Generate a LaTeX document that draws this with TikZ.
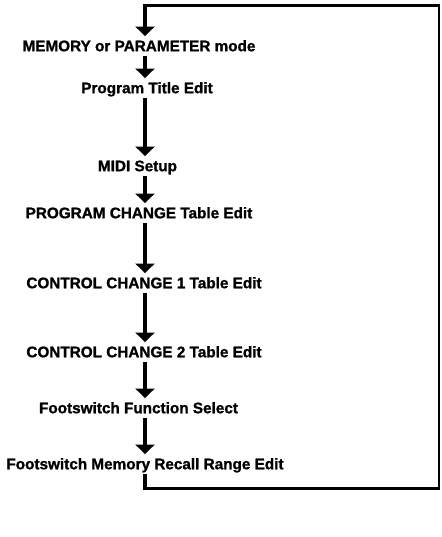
\documentclass[tikz,border=0pt]{standalone}
\usepackage{fontspec}
\setmainfont{Liberation Sans}[BoldFeatures={FakeBold=1.2}]
\usetikzlibrary{arrows.meta}
\begin{document}
\begin{tikzpicture}[x=1pt,y=-1pt,
  label/.style={inner xsep=0pt,inner ysep=4.5pt,text height=10.5pt,text depth=0pt,
    font=\fontsize{15.3}{18}\selectfont\bfseries},
  arr/.style={line width=3.8pt,-{Triangle[width=19pt,length=9.5pt]}},
  loopline/.style={line width=3pt,line join=miter}]
\useasboundingbox (0,0) rectangle (441,537);
\coordinate (col) at (145,0);
\node[label] (mem)  at (139,46)  {MEMORY or PARAMETER mode};
\node[label] (pte)  at (147,88)  {Program Title Edit};
\node[label] (midi) at (137.5,166) {MIDI Setup};
\node[label] (pc)   at (139,213) {PROGRAM CHANGE Table Edit};
\node[label] (cc1)  at (144,283) {CONTROL CHANGE 1 Table Edit};
\node[label] (cc2)  at (144,352) {CONTROL CHANGE 2 Table Edit};
\node[label] (ffs)  at (138.5,408) {Footswitch Function Select};
\node[label] (fmr)  at (145,464) {Footswitch Memory Recall Range Edit};
\coordinate (tl) at (145,6);
\coordinate (tr) at (439,6);
\coordinate (br) at (439,488);
\coordinate (bl) at (145,488);
\draw[arr] (mem.south -| col) -- (pte.north -| col);
\draw[arr] (pte.south -| col) -- (midi.north -| col);
\draw[arr] (midi.south -| col) -- (pc.north -| col);
\draw[arr] (pc.south -| col) -- (cc1.north -| col);
\draw[arr] (cc1.south -| col) -- (cc2.north -| col);
\draw[arr] (cc2.south -| col) -- (ffs.north -| col);
\draw[arr] (ffs.south -| col) -- (fmr.north -| col);
\draw[loopline,line width=3.8pt] (fmr.south -| col) -- ([yshift=-1.5pt]bl);
\draw[loopline] ([xshift=-1.9pt]bl) -- ([xshift=0.75pt]br);
\draw[loopline,line width=1.5pt] ([yshift=-1.5pt]br) -- ([yshift=1.5pt]tr);
\draw[loopline] ([xshift=0.75pt]tr) -- ([xshift=-1.9pt]tl);
\draw[arr] ([yshift=1.5pt]tl) -- (mem.north -| col);
\end{tikzpicture}
\end{document}
